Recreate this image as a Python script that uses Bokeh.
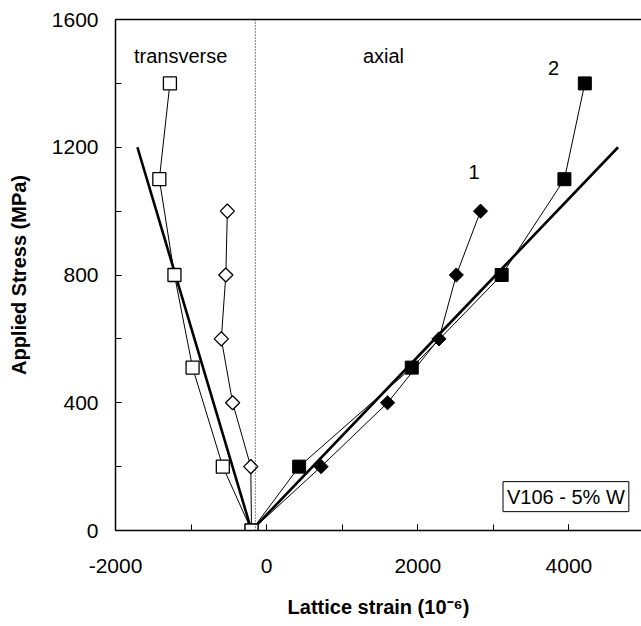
import numpy as np
from bokeh.plotting import figure
from bokeh.models import (LinearAxis, SingleIntervalTicker, FixedTicker, Label, Span,
                          Range1d, CustomJSTickFormatter)
from bokeh.embed import file_html
from bokeh.resources import INLINE

# Applied stress levels (MPa) and lattice strains (1e-6) for each reflection
trans_sq_strain = [-200, -580, -980, -1220, -1420, -1280]
trans_sq_stress = [0, 200, 510, 800, 1100, 1400]

trans_di_strain = [-200, -210, -450, -600, -540, -520]
trans_di_stress = [0, 200, 400, 600, 800, 1000]

axial_di_strain = [-200, 720, 1600, 2280, 2510, 2830]
axial_di_stress = [0, 200, 400, 600, 800, 1000]

axial_sq_strain = [-200, 430, 1920, 3110, 3940, 4210]
axial_sq_stress = [0, 200, 510, 800, 1100, 1400]

# Linear elastic response lines
fit_trans_strain = [-200, -1710]
fit_trans_stress = [0, 1200]
fit_axial_strain = [-200, 4650]
fit_axial_stress = [0, 1200]

zero_ref_strain = -150

FONT = "Liberation Sans"

p = figure(width=641, height=626, output_backend="svg", toolbar_location=None,
           x_range=Range1d(-2000, 4960), y_range=Range1d(0, 1600),
           min_border_left=115, min_border_right=0, min_border_top=19,
           min_border_bottom=96, x_axis_label="Lattice strain (10\u207b\u2076)",
           y_axis_label="Applied Stress (MPa)")
p.outline_line_color = None
p.grid.visible = False
p.background_fill_color = "white"

p.xaxis.ticker = SingleIntervalTicker(interval=2000, num_minor_ticks=2)
p.yaxis.ticker = SingleIntervalTicker(interval=400, num_minor_ticks=2)

plain = CustomJSTickFormatter(code="return tick.toFixed(0);")

for ax in (p.xaxis[0], p.yaxis[0]):
    ax.formatter = plain
    ax.axis_line_width = 1.5
    ax.axis_line_color = "black"
    ax.major_tick_in = 6
    ax.major_tick_out = 0
    ax.minor_tick_in = 6
    ax.minor_tick_out = 0
    ax.major_tick_line_color = "black"
    ax.minor_tick_line_color = "black"
    ax.major_label_text_font = FONT
    ax.major_label_text_font_size = "21px"
    ax.major_label_text_color = "black"
    ax.axis_label_text_font = FONT
    ax.axis_label_text_font_size = "20px"
    ax.axis_label_text_font_style = "bold"
    ax.axis_label_text_color = "black"

p.xaxis.major_label_standoff = 28
p.xaxis.axis_label_standoff = 20
p.yaxis.major_label_standoff = 17
p.yaxis.axis_label_standoff = 19

# plain top border, no ticks
top = LinearAxis(ticker=FixedTicker(ticks=[], minor_ticks=[]),
                 major_tick_in=0, major_tick_out=0, minor_tick_in=0, minor_tick_out=0,
                 axis_line_width=1.5, axis_line_color="black")
p.add_layout(top, "above")

# zero-strain reference
p.add_layout(Span(location=zero_ref_strain, dimension="height", line_color="black",
                  line_width=1, line_dash="1 2"))

# elastic lines
p.line(fit_trans_strain, fit_trans_stress, line_color="black", line_width=2.6)
p.line(fit_axial_strain, fit_axial_stress, line_color="black", line_width=2.6)

# measured series
p.line(axial_di_strain, axial_di_stress, line_color="black", line_width=1)
p.line(axial_sq_strain, axial_sq_stress, line_color="black", line_width=1)
p.line(trans_di_strain, trans_di_stress, line_color="black", line_width=1)
p.line(trans_sq_strain, trans_sq_stress, line_color="black", line_width=1)

p.scatter(axial_di_strain, axial_di_stress, marker="square", angle=np.pi / 4, size=10,
          fill_color="black", line_color="black", line_width=1)
p.scatter(axial_sq_strain, axial_sq_stress, marker="square", size=13,
          fill_color="black", line_color="black", line_width=1)
p.scatter(trans_di_strain, trans_di_stress, marker="square", angle=np.pi / 4, size=10,
          fill_color="white", line_color="black", line_width=1.3)
p.scatter(trans_sq_strain, trans_sq_stress, marker="square", size=13,
          fill_color="white", line_color="black", line_width=1.3)

def note(x, y, text, align="left", baseline="alphabetic", **kw):
    lab = Label(x=x, y=y, text=text, text_font=FONT, text_font_size="20px",
                text_color="black", text_align=align, text_baseline=baseline, **kw)
    p.add_layout(lab)

note(-1755, 1487, "transverse")
note(1274, 1487, "axial")
note(2746, 1122, "1", align="center", baseline="middle")
note(3796, 1449, "2", align="center", baseline="middle")
note(3960, 106, "V106 - 5% W", align="center", baseline="middle",
     border_line_color="black", border_line_width=1, background_fill_color="white",
     padding=4)

open("out.html", "w").write(file_html(p, INLINE))
